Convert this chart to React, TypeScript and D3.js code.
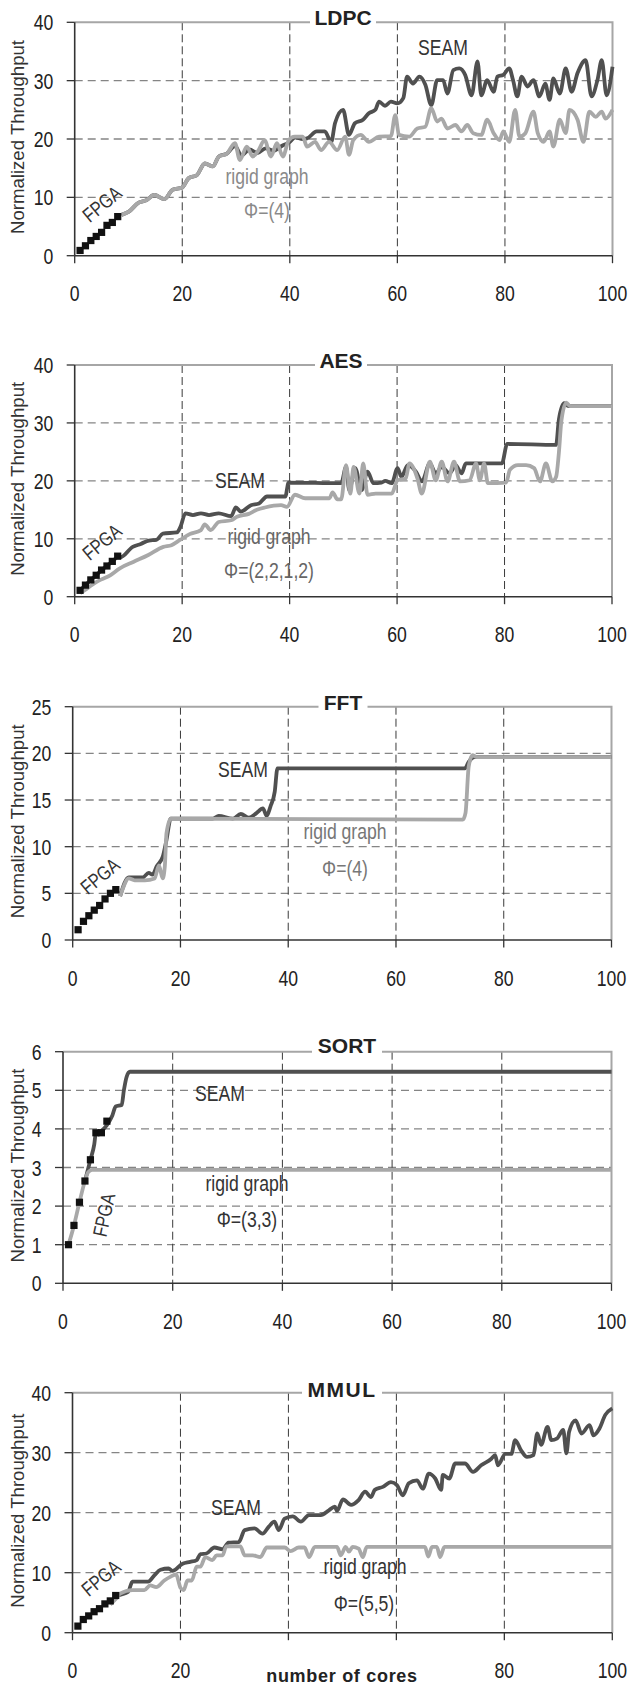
import React from "react";
import * as d3 from "d3";

type Pt = [number, number];

// shared axis data
const xTicks = [0, 20, 40, 60, 80, 100];
const fpgaCores = [1, 2, 3, 4, 5, 6, 7, 8];
const titles = ["LDPC", "AES", "FFT", "SORT", "MMUL"];
const phiLabels = ["Φ=(4)", "Φ=(2,2,1,2)", "Φ=(4)", "Φ=(3,3)", "Φ=(5,5)"];
const yMaxes = [40, 40, 25, 6, 40];
const ySteps = [10, 10, 5, 1, 10];

// LDPC
const ldpcFpga = [0.9, 1.7, 2.6, 3.3, 4.0, 5.2, 5.7, 6.7];
const ldpcRigid: Pt[] = [
  [8.7, 7.0], [10, 7.5], [11.9, 9.1], [13.3, 9.5], [14.8, 10.4], [16.7, 9.7], [18.2, 11.3], [20, 11.7],
  [21.2, 13.3], [22.7, 13.8], [24.2, 15.8], [25.7, 15.3], [26.8, 17.0], [28.3, 17.5], [29.8, 19.3], [30.7, 16.4],
  [32, 18.7], [33.1, 17.0], [34.2, 18.1], [35.3, 19.8], [36.5, 17.0], [37.6, 19.3], [38.7, 17.0], [39.8, 19.8],
  [40.9, 20.4], [42.4, 20.4], [43.2, 18.7], [44.7, 19.5], [45.8, 18.1], [47.3, 19.5], [48.8, 18.1], [50.3, 20.4],
  [51, 17.3], [51.8, 19.8], [53.2, 20.7], [54.7, 19.5], [56.6, 20.4], [58.8, 20.5], [59.6, 24.1], [60.3, 20.7],
  [62.2, 20.4], [63.7, 21.8], [65.2, 22.1], [66.3, 25.3], [67.4, 23.0], [68.2, 23.5], [69.3, 21.8], [70.8, 22.4],
  [71.9, 21.3], [73, 22.4], [74.1, 21.0], [75.6, 20.7], [76.7, 23.3], [77.9, 21.0], [79, 19.8], [79.7, 21.3],
  [80.8, 19.5], [81.9, 25.0], [82.7, 20.4], [83.8, 21.0], [85.3, 24.7], [86.1, 21.0], [87.2, 19.5], [88.3, 21.3],
  [89, 18.7], [90.2, 23.3], [91.3, 21.0], [92, 25.0], [93.5, 23.3], [94.6, 19.5], [95.7, 24.7], [96.9, 23.8],
  [98, 24.7], [98.7, 23.5], [100, 25.0],
];
const ldpcSeam: Pt[] = [
  [8.7, 7.0], [10, 7.5], [11.9, 9.1], [13.3, 9.5], [14.8, 10.4], [16.7, 9.7], [18.2, 11.3], [20, 11.7],
  [21.2, 13.3], [22.7, 13.8], [24.2, 15.8], [25.7, 15.3], [26.8, 17.0], [28.3, 17.5], [29.8, 18.8], [31, 17.2],
  [32.5, 18.2], [34, 17.6], [35.5, 18.4], [37, 18.0], [38.5, 18.8], [40, 19.5], [41, 20.3], [42.4, 20.0],
  [43.2, 20.1], [45, 21.3], [46.5, 21.3], [47.7, 19.5], [48.4, 22.7], [49.9, 25.0], [51, 20.7], [52.1, 22.7],
  [53.6, 23.3], [54.7, 24.4], [55.9, 25.0], [56.6, 26.4], [57.7, 25.7], [58.8, 26.4], [60, 26.1], [61.1, 27.0],
  [61.8, 30.7], [62.9, 29.5], [64.1, 30.7], [65.2, 29.3], [66.3, 25.8], [67.4, 30.1], [68.5, 30.1], [69.3, 27.8],
  [70.4, 31.8], [71.5, 32.1], [72.6, 31.0], [73.8, 27.5], [74.9, 33.3], [75.6, 27.5], [76.7, 30.1], [77.9, 28.1],
  [78.6, 30.7], [79.7, 31.0], [80.8, 32.1], [81.5, 30.1], [82.3, 27.3], [83.1, 30.7], [84.2, 29.0], [85.3, 30.1],
  [86.4, 27.3], [87.5, 29.5], [88.3, 26.7], [89, 30.4], [90.2, 27.8], [91.3, 32.1], [92.4, 28.1], [93.5, 31.3],
  [95, 33.5], [96.1, 27.3], [97.2, 30.1], [98, 33.5], [98.9, 27.5], [100, 32.4],
];

// AES
const aesFpga = [1.1, 2.0, 2.9, 3.7, 4.6, 5.3, 6.1, 7.0];
const aesRigid: Pt[] = [
  [1, 0.6], [2, 1.2], [3, 1.9], [4, 2.5], [5, 3.0], [6.6, 3.7], [8.4, 4.9], [10.9, 6.0], [13.7, 7.2], [16.5, 8.6],
  [18, 8.9], [19.6, 9.8], [21.4, 10.8], [23.5, 11.5], [24.2, 12.5], [25.3, 11.5], [26.8, 12.9], [29.1, 13.2],
  [30.2, 13.8], [32.4, 14.3], [33.9, 15.0], [35.4, 15.4], [38.4, 15.8], [39.5, 15.5], [41, 17.6], [42.9, 17.0],
  [47.4, 17.0], [48, 18.0], [48.9, 16.8], [49.6, 16.8], [50.5, 22.7], [51.3, 17.8], [51.9, 22.4], [53, 17.8],
  [53.7, 23.0], [54.5, 17.6], [56, 17.8], [59, 17.8], [60.1, 20.1], [61.6, 20.4], [62.3, 23.0], [63.8, 20.4],
  [64.6, 17.8], [66.1, 23.3], [67.2, 20.1], [68.3, 23.3], [69.4, 19.9], [70.6, 23.3], [71.7, 19.9], [73.5, 20.1],
  [74.7, 23.0], [75.4, 20.1], [76.2, 23.0], [76.9, 19.6], [80.3, 19.7], [81, 21.9], [82.5, 22.7], [84, 22.7],
  [85.5, 22.2], [86.6, 19.9], [87.7, 23.0], [88.9, 19.9], [89.6, 20.7], [90.1, 24.7], [90.6, 30.5], [91.5, 33.5],
  [92.2, 32.9], [100, 32.9],
];
const aesSeam: Pt[] = [
  [1, 1.1], [2, 2.0], [3, 2.9], [4, 3.7], [5, 4.6], [6, 5.3], [7, 6.1], [8, 6.8], [8.5, 6.8], [10.8, 8.6],
  [12.3, 9.1], [13.8, 9.7], [15.2, 9.8], [16.4, 10.9], [19, 11.1], [19.7, 12.1], [20.6, 14.4], [22, 14.1],
  [23.5, 14.4], [25, 14.1], [26.8, 14.4], [29.1, 13.9], [30, 15.4], [30.9, 14.7], [32.8, 15.8], [34.3, 16.1],
  [35.8, 17.3], [39.2, 17.3], [39.8, 19.7], [49.6, 19.6], [50.5, 22.4], [51.1, 18.4], [52.2, 22.2], [53.4, 18.4],
  [54.5, 21.6], [55.6, 19.6], [57.1, 19.7], [57.8, 20.0], [59, 19.6], [60.1, 22.2], [60.8, 20.7], [62, 22.7],
  [63.5, 21.6], [64.6, 19.9], [66.1, 23.0], [67.2, 21.3], [68.3, 22.4], [69.8, 21.3], [70.9, 22.7], [72, 21.3],
  [72.8, 23.0], [79.5, 23.0], [80.5, 26.4], [89.6, 26.2], [90.1, 30.5], [91.1, 33.4], [91.9, 32.9], [100, 32.9],
];

// FFT
const fftFpga = [1.1, 2.0, 2.6, 3.2, 3.7, 4.4, 5.0, 5.4];
const fftRigid: Pt[] = [
  [8.8, 4.7], [9.3, 5.5], [10.4, 6.6], [11.5, 6.4], [13.4, 6.4], [15.2, 6.6], [16, 8.0], [16.7, 6.6],
  [17.1, 7.9], [17.4, 11.4], [18.2, 13.0], [72.4, 12.9], [72.9, 13.6], [73.5, 18.6], [74.2, 19.8], [75, 19.6],
  [100, 19.6],
];
const fftSeam: Pt[] = [
  [8.8, 4.7], [10.4, 6.7], [13, 6.7], [14.1, 7.2], [14.8, 7.0], [15.6, 7.9], [16.7, 8.9], [17.4, 10.7],
  [18.2, 13.0], [26, 13.0], [27.1, 13.3], [29.7, 13.0], [31.2, 13.5], [32.7, 13.1], [34.1, 13.6], [35.3, 14.1],
  [36, 13.3], [36.7, 14.3], [37.5, 15.9], [38, 18.4], [72.8, 18.4], [73.5, 19.1], [74.6, 19.6], [100, 19.6],
];

// SORT
const sortFpga = [1.0, 1.5, 2.1, 2.65, 3.2, 3.9, 3.9, 4.2];
const sortRigid: Pt[] = [[1, 1.0], [2, 1.5], [3, 2.1], [4, 2.65], [4.6, 2.88], [5.3, 2.94], [100, 2.94]];
const sortSeam: Pt[] = [
  [4, 2.65], [5, 3.2], [5.7, 3.6], [6, 3.9], [7, 3.95], [8, 4.1], [9, 4.35], [9.6, 4.58], [10.7, 4.62],
  [11.1, 5.0], [11.6, 5.35], [12.2, 5.48], [100, 5.48],
];

// MMUL
const mmulFpga = [1.1, 2.2, 2.8, 3.5, 4.0, 4.8, 5.3, 6.2];
const mmulRigid: Pt[] = [
  [7, 4.7], [8, 5.6], [8.8, 6.5], [11.1, 7.1], [13.3, 7.1], [14.4, 7.9], [15.5, 7.6], [17, 8.7], [18.1, 9.3],
  [19.2, 9.7], [20, 7.5], [20.6, 7.1], [21.3, 8.7], [22.1, 8.7], [23, 11.0], [23.7, 11.0], [24.6, 12.6],
  [25.9, 12.1], [26.7, 12.9], [27.8, 12.9], [28.5, 14.4], [31.1, 14.4], [31.9, 12.9], [33.4, 12.9], [34.8, 12.6],
  [36, 14.2], [39.3, 14.2], [40.4, 13.6], [41.9, 14.2], [43, 14.2], [43.8, 12.6], [44.9, 14.3], [49, 14.3],
  [49.7, 12.9], [50.6, 14.3], [51.2, 13.5], [51.9, 14.3], [53, 14.0], [53.8, 12.6], [54.5, 14.3], [65.3, 14.3],
  [65.9, 12.7], [66.6, 14.3], [67.5, 14.3], [68.1, 12.6], [68.9, 14.3], [100, 14.3],
];
const mmulSeam: Pt[] = [
  [8.1, 6.2], [10.3, 6.8], [11.1, 8.5], [14, 8.5], [15.2, 9.6], [16.3, 10.5], [17.8, 10.7], [18.5, 10.3],
  [20.4, 11.5], [21.8, 11.8], [23, 12.1], [23.7, 13.1], [24.8, 13.2], [26.3, 14.2], [27.8, 13.9], [28.9, 15.0],
  [30.8, 15.1], [31.9, 17.1], [33.7, 17.4], [35.2, 16.5], [36.3, 17.6], [37.4, 18.5], [38.2, 17.1], [39.3, 19.0],
  [40.8, 19.4], [42.3, 18.5], [43.8, 19.6], [46, 19.6], [47.5, 20.4], [48.6, 21.0], [49, 20.3], [50.1, 22.2],
  [51.6, 21.3], [53, 22.1], [54.2, 23.5], [55.3, 22.6], [56, 23.8], [57.5, 24.3], [59, 25.1], [60.1, 24.6],
  [61.2, 22.9], [62.3, 24.9], [63.8, 25.4], [64.9, 24.0], [66, 26.5], [67.2, 25.7], [68.3, 23.8], [68.6, 26.3],
  [69.8, 25.7], [70.9, 28.2], [72.7, 28.2], [74.2, 26.8], [75.7, 27.9], [77.6, 29.0], [78.3, 29.6], [78.8, 27.9],
  [80.2, 29.8], [81.3, 29.8], [82, 32.1], [83.1, 30.4], [84.2, 29.3], [85.4, 29.6], [86.1, 33.2], [86.8, 31.3],
  [88, 34.3], [88.7, 32.1], [89.8, 32.4], [90.9, 33.8], [91.5, 29.9], [92, 33.5], [93.2, 35.4], [94.3, 33.2],
  [95.8, 34.6], [96.5, 32.9], [97.6, 34.0], [98.7, 36.3], [100, 37.4],
];

const fpgaSeries = [ldpcFpga, aesFpga, fftFpga, sortFpga, mmulFpga];
const rigidSeries = [ldpcRigid, aesRigid, fftRigid, sortRigid, mmulRigid];
const seamSeries = [ldpcSeam, aesSeam, fftSeam, sortSeam, mmulSeam];

// layout of each panel (pixels)
const frames = [
  { left: 74.7, right: 612.5, top: 22.3, bottom: 255.7, titleX: 343, titleW: 66, titleDy: 3,
    seam: [443, 55], rigid: [267, 184], phi: [267, 218], fpga: [102, 204], fpgaRot: -40, note: "#8a8a8a" },
  { left: 74.7, right: 612, top: 365, bottom: 596.7, titleX: 341, titleW: 52, titleDy: 3,
    seam: [240, 488], rigid: [269, 544], phi: [269, 578], fpga: [102, 542], fpgaRot: -40, note: "#666" },
  { left: 72.7, right: 611.5, top: 706.7, bottom: 940, titleX: 343, titleW: 49, titleDy: 3,
    seam: [243, 777], rigid: [345, 839], phi: [345, 876], fpga: [100, 876], fpgaRot: -40, note: "#777" },
  { left: 63, right: 611.5, top: 1051.7, bottom: 1283.3, titleX: 347, titleW: 70, titleDy: 1.5,
    seam: [220, 1101], rigid: [247, 1191], phi: [247, 1227], fpga: [104, 1215], fpgaRot: -78, note: "#333" },
  { left: 72.5, right: 612.3, top: 1392.7, bottom: 1632.7, titleX: 342, titleW: 80, titleDy: 4,
    seam: [236, 1515], rigid: [365, 1574], phi: [364, 1611], fpga: [101, 1578], fpgaRot: -40, note: "#333" },
];

const SEAM_C = "#505050";
const RIGID_C = "#a8a8a8";

function NText(props: any) {
  const { x, y, children, anchor = "middle", size = 22, fill = "#222", sx = 0.8, rot = 0, weight = "normal", ls = 0, dy } = props;
  return (
    <text transform={`translate(${x},${y}) rotate(${rot}) scale(${sx},1)`} textAnchor={anchor}
      fontSize={size} fill={fill} fontWeight={weight} letterSpacing={ls} dy={dy}>
      {children}
    </text>
  );
}

function Panel({ i }: { i: number }) {
  const f = frames[i];
  const yMax = yMaxes[i];
  const x = d3.scaleLinear().domain([0, 100]).range([f.left, f.right]);
  const y = d3.scaleLinear().domain([0, yMax]).range([f.bottom, f.top]);
  const line = d3.line<Pt>().x(d => x(d[0])).y(d => y(d[1])).curve(d3.curveMonotoneX);
  const yTicks = d3.range(0, yMax + ySteps[i] / 2, ySteps[i]);
  const midY = (f.top + f.bottom) / 2 - 2;

  return (
    <g>
      {yTicks.filter(t => t > 0 && t < yMax).map(t => (
        <line key={"h" + t} x1={f.left} x2={f.right} y1={y(t)} y2={y(t)} stroke="#858585" strokeWidth={1.3} strokeDasharray="8,5" />
      ))}
      {xTicks.filter(t => t > 0 && t < 100).map(t => (
        <line key={"v" + t} x1={x(t)} x2={x(t)} y1={f.top} y2={f.bottom} stroke="#3a3a3a" strokeWidth={1} strokeDasharray="8,4" />
      ))}
      <path d={`M${f.left},${f.top}H${f.right}V${f.bottom}`} fill="none" stroke="#a6a6a6" strokeWidth={2} />
      <line x1={f.left} x2={f.left} y1={f.top} y2={f.bottom} stroke="#333" strokeWidth={1.6} />
      <line x1={f.left} x2={f.right} y1={f.bottom} y2={f.bottom} stroke="#333" strokeWidth={1.6} />
      {yTicks.map(t => (
        <g key={"yt" + t}>
          <line x1={f.left - 8} x2={f.left} y1={y(t)} y2={y(t)} stroke="#333" strokeWidth={1.3} />
          <NText x={f.left - 21.5} y={y(t) + 8} anchor="end">{t}</NText>
        </g>
      ))}
      {xTicks.map(t => (
        <g key={"xt" + t}>
          <line x1={x(t)} x2={x(t)} y1={f.bottom} y2={f.bottom + 7.5} stroke="#333" strokeWidth={1.3} />
          <NText x={x(t)} y={f.bottom + 45.5}>{t}</NText>
        </g>
      ))}

      <path d={line(seamSeries[i]) || ""} fill="none" stroke={SEAM_C} strokeWidth={3.8} strokeLinejoin="round" />
      <path d={line(rigidSeries[i]) || ""} fill="none" stroke={RIGID_C} strokeWidth={3.8} strokeLinejoin="round" />
      {fpgaCores.map((c, k) => (
        <rect key={"sq" + k} x={x(c) - 3.6} y={y(fpgaSeries[i][k]) - 3.6} width={7.2} height={7.2} fill="#111" />
      ))}

      <NText x={f.seam[0]} y={f.seam[1]} fill="#333">SEAM</NText>
      <NText x={f.rigid[0]} y={f.rigid[1]} fill={f.note}>rigid graph</NText>
      <NText x={f.phi[0]} y={f.phi[1]} fill={f.note}>{phiLabels[i]}</NText>
      <NText x={f.fpga[0]} y={f.fpga[1]} rot={f.fpgaRot} size={20} fill="#333" dy="0.35em">FPGA</NText>

      <text transform={`translate(24,${midY}) rotate(-90)`} textAnchor="middle" fontSize={19} fill="#333"
        textLength={194} lengthAdjust="spacingAndGlyphs">
        Normalized Throughput
      </text>

      <rect x={f.titleX - f.titleW / 2} y={f.top - 19} width={f.titleW} height={21} fill="#fff" />
      <text x={f.titleX} y={f.top + f.titleDy} textAnchor="middle" fontSize={21} fontWeight="bold" fill="#222"
        letterSpacing={titles[i] === "MMUL" ? 1.5 : 0}>
        {titles[i]}
      </text>
    </g>
  );
}

export default function App() {
  return (
    <svg width={629} height={1683} style={{ position: "absolute", left: 0, top: 0, background: "#fff" }}
      fontFamily="'Liberation Sans', Arial, sans-serif">
      <rect width={629} height={1683} fill="#fff" />
      {titles.map((_, i) => <Panel key={i} i={i} />)}
      <rect x={262} y={1657} width={160} height={26} fill="#fff" />
      <text x={342} y={1682} textAnchor="middle" fontSize={18} fontWeight="bold" fill="#222" letterSpacing={0.7}>
        number of cores
      </text>
    </svg>
  );
}
